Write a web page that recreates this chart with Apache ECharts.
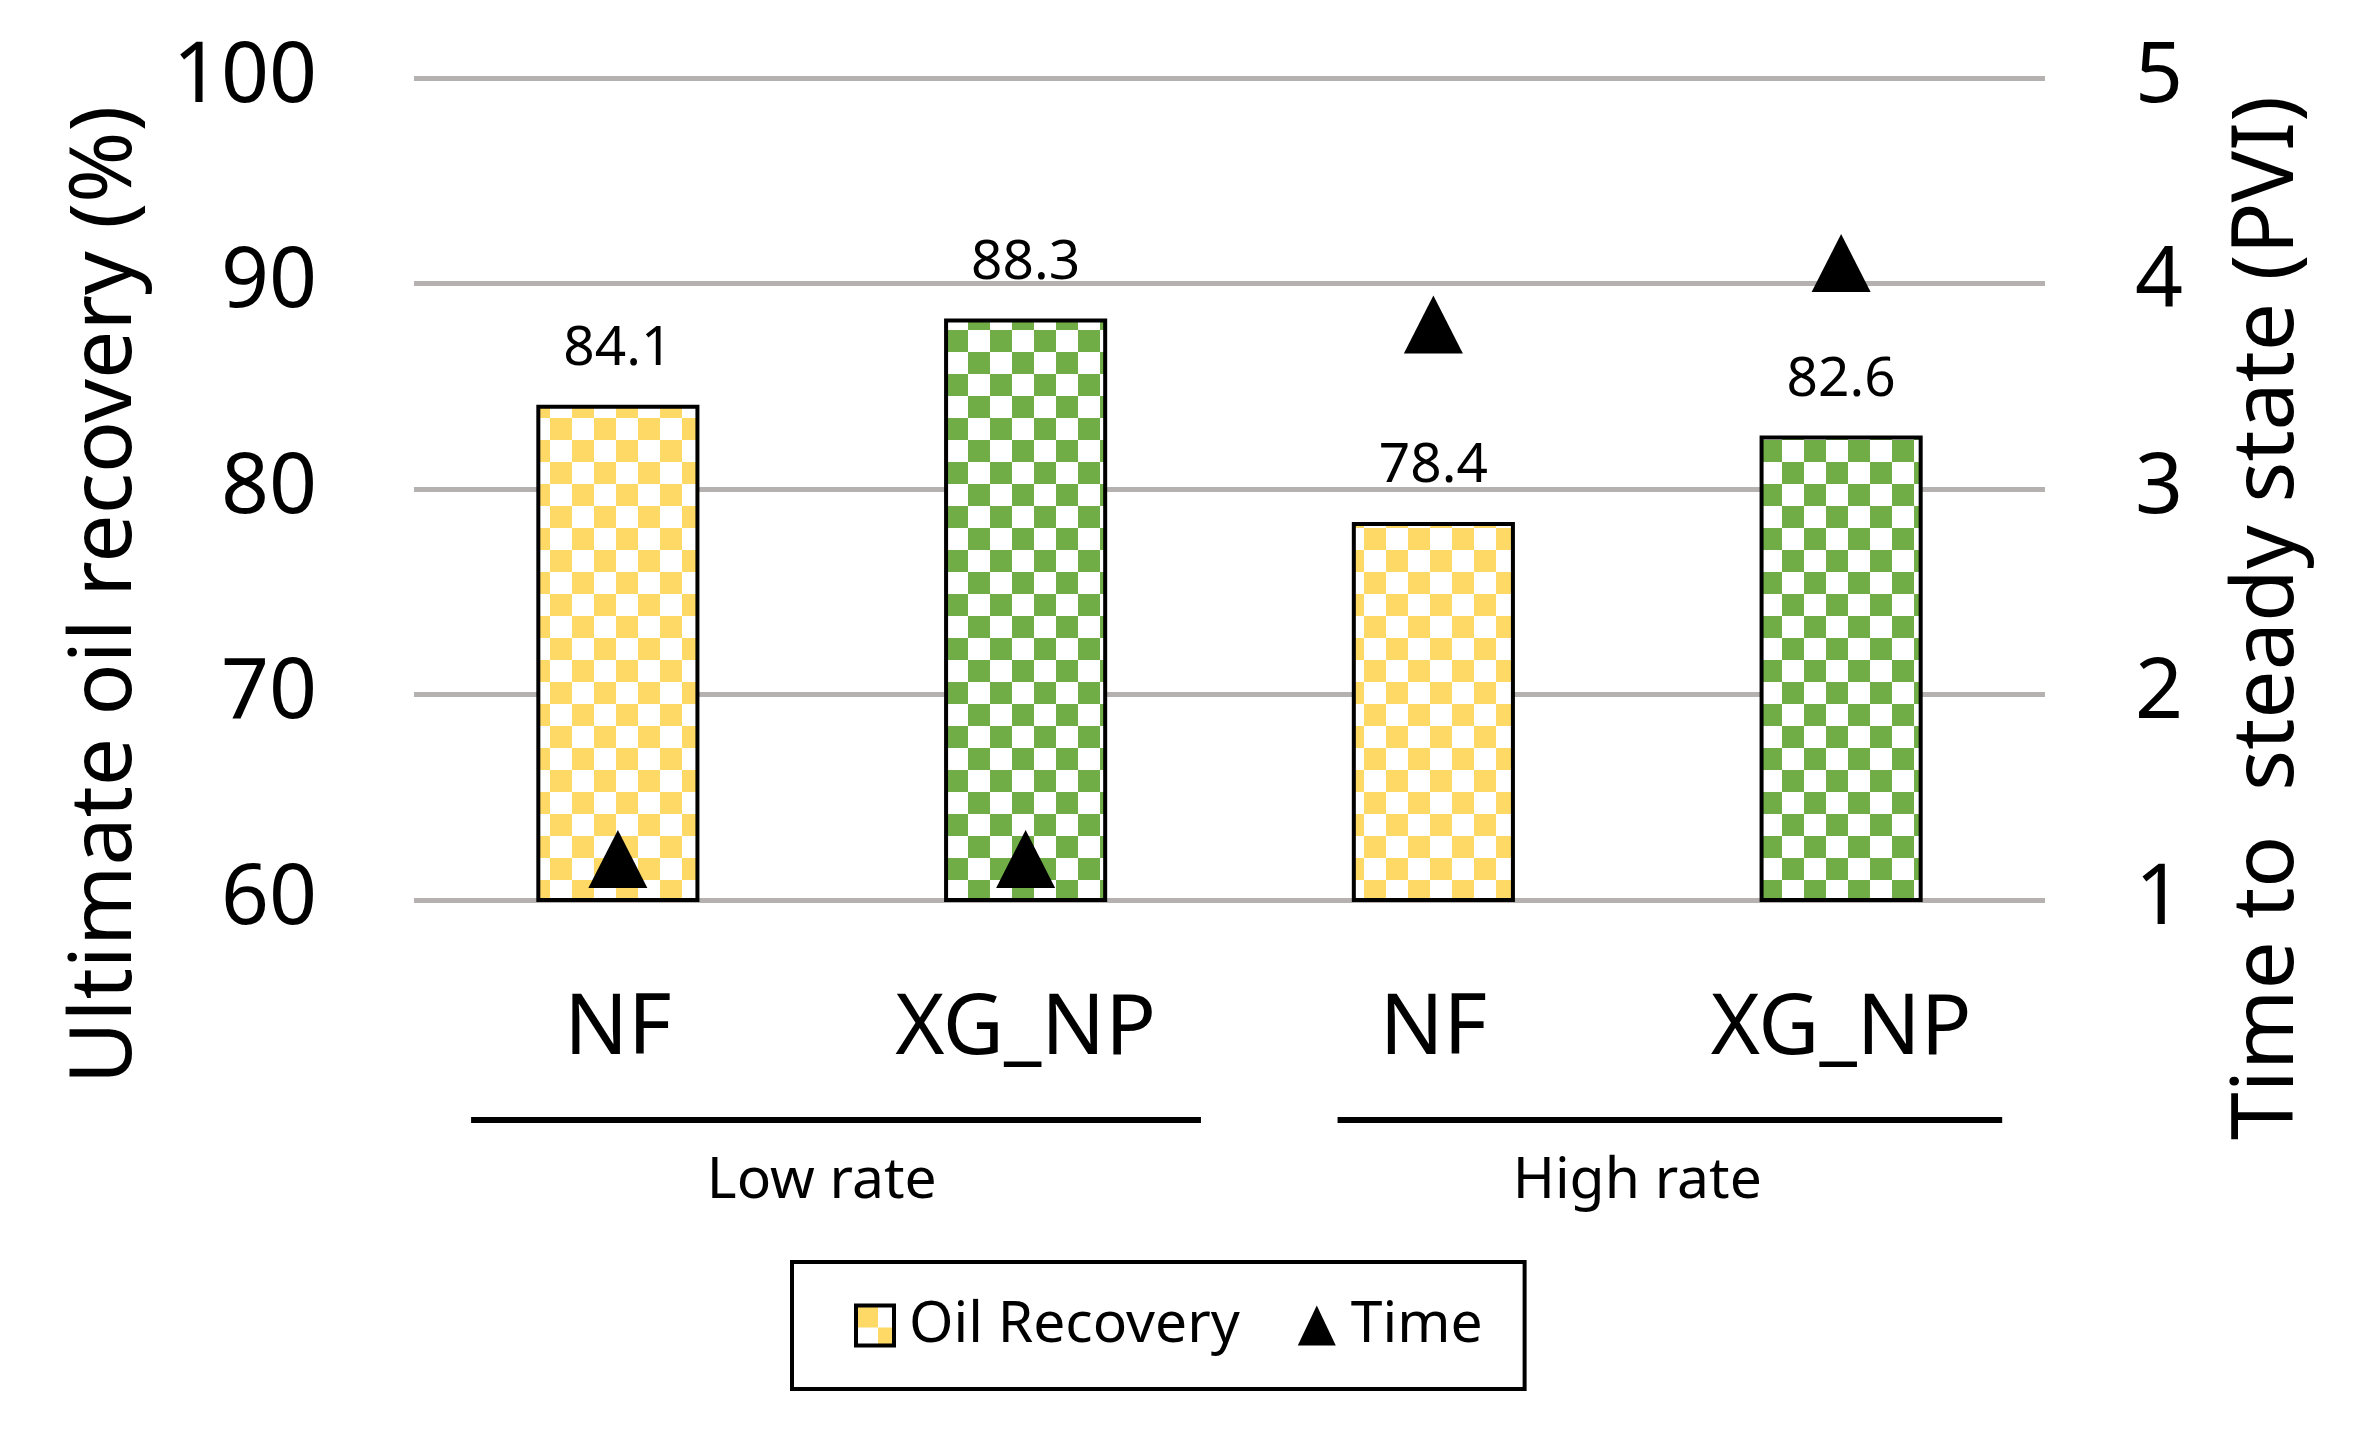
<!DOCTYPE html>
<html>
<head>
<meta charset="utf-8">
<script src="https://cdn.jsdelivr.net/npm/echarts@6/dist/echarts.min.js"></script>
<style>
html,body{margin:0;padding:0;background:#fff;}
#main{width:2364px;height:1433px;}
</style>
</head>
<body>
<div id="main"></div>
<script>
// ---- data ----
var categories = ['NF', 'XG_NP', 'NF', 'XG_NP'];
var groups = ['Low rate', 'High rate'];
var oilRecovery = [84.1, 88.3, 78.4, 82.6];
var timeToSteady = [1.2, 1.2, 3.8, 4.1];
var leftTicks = {min: 60, max: 100, interval: 10};
var rightTicks = {min: 1, max: 5, interval: 1};

function makePattern(color) {
  var c = document.createElement('canvas');
  var s = 22;
  c.width = s * 2; c.height = s * 2;
  var ctx = c.getContext('2d');
  ctx.fillStyle = '#ffffff';
  ctx.fillRect(0, 0, s * 2, s * 2);
  ctx.fillStyle = color;
  ctx.fillRect(0, 0, s, s);
  ctx.fillRect(s, s, s, s);
  return {image: c, repeat: 'repeat'};
}
var yellowPat = makePattern('#FFD966');
var greenPat = makePattern('#70AD47');
var barPatterns = [yellowPat, greenPat, yellowPat, greenPat];

var FONT = 'Noto Sans';
var chart = echarts.init(document.getElementById('main'), null, {renderer: 'canvas'});

var option = {
  backgroundColor: '#ffffff',
  animation: false,
  textStyle: {fontFamily: FONT, color: '#000'},
  grid: {left: 414, right: 319, top: 78, bottom: 533, containLabel: false, outerBoundsMode: 'none'},
  legend: {
    left: 792, top: 1262,
    orient: 'horizontal',
    padding: [35, 42, 35, 62],
    borderColor: '#000', borderWidth: 4,
    itemWidth: 38, itemHeight: 40, itemGap: 58,
    textStyle: {fontFamily: FONT, fontSize: 57, color: '#000', padding: [0, 0, 0, 10]},
    data: [
      {name: 'Oil Recovery', icon: 'rect', itemStyle: {color: yellowPat, borderColor: '#000', borderWidth: 4}},
      {name: 'Time', icon: 'triangle', itemStyle: {color: '#000', borderWidth: 0, opacity: 1}}
    ]
  },
  xAxis: [
    {
      type: 'category', data: categories, gridIndex: 0, position: 'bottom',
      axisLine: {show: false}, axisTick: {show: false},
      axisLabel: {fontFamily: FONT, fontSize: 84, color: '#000', margin: 88}
    },
    {
      type: 'category', data: groups, gridIndex: 0, position: 'bottom',
      axisLine: {show: false}, axisTick: {show: false}, splitLine: {show: false},
      axisLabel: {fontFamily: FONT, fontSize: 57, color: '#000', margin: 253}
    }
  ],
  yAxis: [
    {
      type: 'value', min: leftTicks.min, max: leftTicks.max, interval: leftTicks.interval,
      position: 'left',
      name: 'Ultimate oil recovery (%)', nameLocation: 'middle', nameRotate: 90, nameGap: 265,
      nameTextStyle: {fontFamily: FONT, fontSize: 86, color: '#000', padding: [0, 212, 0, 0]},
      axisLine: {show: false}, axisTick: {show: false},
      axisLabel: {fontFamily: FONT, fontSize: 84, color: '#000', margin: 97},
      splitLine: {show: true, lineStyle: {color: '#B5B1B0', width: 5}}
    },
    {
      type: 'value', min: rightTicks.min, max: rightTicks.max, interval: rightTicks.interval,
      position: 'right',
      name: 'Time to  steady state (PVI)', nameLocation: 'middle', nameRotate: 90, nameGap: 180,
      nameTextStyle: {fontFamily: FONT, fontSize: 86, color: '#000', padding: [0, 258, 0, 0]},
      axisLine: {show: false}, axisTick: {show: false},
      axisLabel: {fontFamily: FONT, fontSize: 84, color: '#000', margin: 90},
      splitLine: {show: false}
    }
  ],
  series: [
    {
      name: 'Oil Recovery', type: 'bar', xAxisIndex: 0, yAxisIndex: 0,
      barWidth: '40%',
      data: oilRecovery.map(function (v, i) {
        return {value: v, itemStyle: {color: barPatterns[i]}};
      }),
      itemStyle: {color: yellowPat, borderColor: '#000', borderWidth: 4},
      label: {
        show: true, position: 'top', distance: 28,
        fontFamily: FONT, fontSize: 55, color: '#000',
        formatter: function (p) { return p.value.toFixed(1); }
      },
      z: 2
    },
    {
      name: 'Time', type: 'scatter', xAxisIndex: 0, yAxisIndex: 1,
      symbol: 'triangle', symbolSize: [59, 58],
      itemStyle: {color: '#000', opacity: 1},
      data: timeToSteady,
      z: 5
    }
  ]
};
chart.setOption(option);

// group separator lines under category labels
function drawGroupLines() {
  var c0 = chart.convertToPixel({xAxisIndex: 0}, 0);
  var c1 = chart.convertToPixel({xAxisIndex: 0}, 1);
  var c2 = chart.convertToPixel({xAxisIndex: 0}, 2);
  var c3 = chart.convertToPixel({xAxisIndex: 0}, 3);
  var w = c1 - c0;
  var yBase = chart.convertToPixel({yAxisIndex: 0}, leftTicks.min);
  var y = yBase + 220;
  chart.setOption({
    graphic: [
      {type: 'line', shape: {x1: c0 - 0.36 * w, y1: y, x2: c1 + 0.43 * w, y2: y},
        style: {stroke: '#000', lineWidth: 6}, silent: true},
      {type: 'line', shape: {x1: c2 - 0.235 * w, y1: y, x2: c3 + 0.395 * w, y2: y},
        style: {stroke: '#000', lineWidth: 6}, silent: true}
    ]
  });
}
drawGroupLines();
</script>
</body>
</html>
